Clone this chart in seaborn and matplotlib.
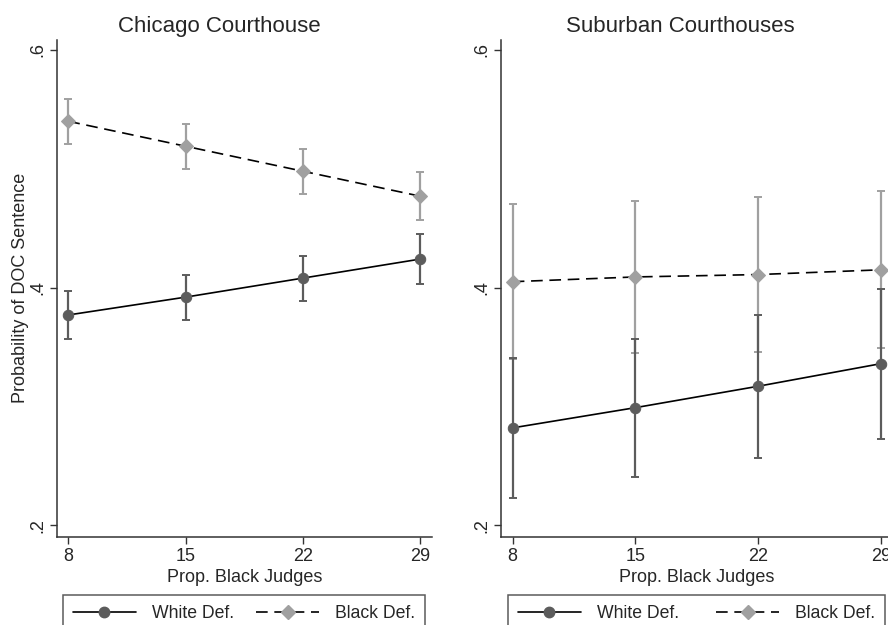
import matplotlib
matplotlib.use("Agg")
import matplotlib.pyplot as plt
import seaborn as sns
import pandas as pd
import numpy as np
from matplotlib.lines import Line2D

# ---- data ----
judges = [8, 15, 22, 29]
panels = ["Chicago Courthouse", "Suburban Courthouses"]
groups = ["White Def.", "Black Def."]

chi_white = [0.377, 0.392, 0.408, 0.424]
chi_white_err = [0.020, 0.019, 0.019, 0.021]
chi_black = [0.540, 0.519, 0.498, 0.477]
chi_black_err = [0.019, 0.019, 0.019, 0.020]

sub_white = [0.282, 0.299, 0.317, 0.336]
sub_white_err = [0.059, 0.058, 0.060, 0.063]
sub_black = [0.405, 0.409, 0.411, 0.415]
sub_black_err = [0.065, 0.064, 0.065, 0.066]

yticks = [0.2, 0.4, 0.6]
ytick_labels = [".2", ".4", ".6"]

sns.set_style("white")
plt.rcParams["font.family"] = ["Liberation Sans", "DejaVu Sans"]

W, H = 888, 625
fig = plt.figure(figsize=(W / 100, H / 100), dpi=100)

def fx(px):
    return px / W

def fy(py):
    return 1 - py / H

ax_top, ax_bot = 40, 536.7
axL = fig.add_axes([fx(57.1), fy(ax_bot), fx(431.7 - 57.1), (ax_bot - ax_top) / H])
axR = fig.add_axes([fx(501.0), fy(ax_bot), fx(893.0 - 501.0), (ax_bot - ax_top) / H])

white_col = "#5c5c5c"
black_col = "#a0a0a0"

specs = [
    (axL, panels[0], 0.432, chi_white, chi_white_err, chi_black, chi_black_err),
    (axR, panels[1], 0.457, sub_white, sub_white_err, sub_black, sub_black_err),
]

for ax, title, tx, w, we, b, be in specs:
    dfw = pd.DataFrame({"x": judges, "y": w})
    dfb = pd.DataFrame({"x": judges, "y": b})
    # error bars
    ax.errorbar(judges, b, yerr=be, fmt="none", ecolor=black_col, elinewidth=1.6,
                capsize=3, capthick=1.4, zorder=2)
    ax.errorbar(judges, w, yerr=we, fmt="none", ecolor=white_col, elinewidth=1.6,
                capsize=3, capthick=1.4, zorder=2)
    sns.lineplot(data=dfb, x="x", y="y", ax=ax, color="black", linewidth=1.2,
                 marker="D", markersize=7, markerfacecolor=black_col,
                 markeredgecolor=black_col, dashes=False, zorder=3)
    ax.lines[-1].set_dashes([7, 4])
    sns.lineplot(data=dfw, x="x", y="y", ax=ax, color="black", linewidth=1.2,
                 marker="o", markersize=7.5, markerfacecolor=white_col,
                 markeredgecolor=white_col, zorder=3)

    ax.set_xlim(7.33, 29.7)
    ax.set_ylim(0.1904, 0.6084)
    ax.set_xticks(judges)
    ax.set_xticklabels([str(j) for j in judges])
    ax.set_yticks(yticks)
    ax.set_yticklabels(ytick_labels, rotation=90, va="center")
    ax.tick_params(axis="both", direction="out", length=5, width=1, color="#333333",
                   labelsize=13, pad=3, left=True, bottom=True)
    for s in ["top", "right"]:
        ax.spines[s].set_visible(False)
    for s in ["left", "bottom"]:
        ax.spines[s].set_color("#333333")
        ax.spines[s].set_linewidth(1.1)
    ax.set_title(title, fontsize=16, pad=6, x=tx)
    ax.set_xlabel("Prop. Black Judges", fontsize=13, labelpad=3)
    ax.set_ylabel("")
    ax.grid(False)

axL.set_ylabel("Probability of DOC Sentence", fontsize=13, labelpad=0)

handles = [
    Line2D([], [], color="black", linewidth=1.2, marker="o", markersize=7.5,
           markerfacecolor=white_col, markeredgecolor=white_col),
    Line2D([], [], color="black", linewidth=1.2, dashes=[7, 4], marker="D",
           markersize=7, markerfacecolor=black_col, markeredgecolor=black_col),
]

for x0, x1 in [(63, 425), (508, 885)]:
    leg = fig.legend(handles, groups, loc="upper left", ncol=2, mode="expand",
                     bbox_to_anchor=(fx(x0), 0.0, fx(x1 - x0), fy(595)),
                     borderaxespad=0, fontsize=12.7, handlelength=3.6, numpoints=1,
                     frameon=True, fancybox=False, edgecolor="#333333",
                     borderpad=0.55, handletextpad=0.9, columnspacing=1.0)
    leg.get_frame().set_linewidth(1.1)

fig.savefig("out.png", dpi=100)
